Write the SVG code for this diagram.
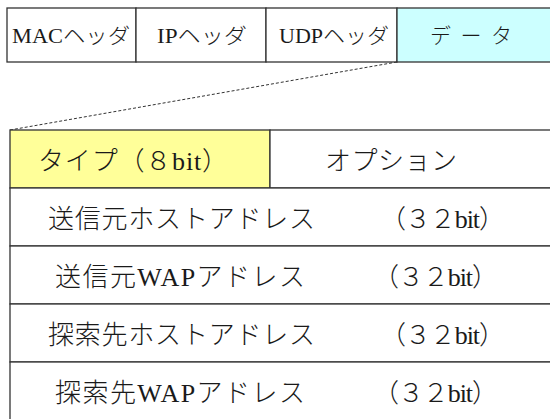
<svg xmlns="http://www.w3.org/2000/svg" width="550" height="419" viewBox="0 0 550 419">
<style>
.cell{stroke:#333;stroke-width:1.3}
.t{font-family:"Liberation Serif","Noto Sans CJK JP",serif;fill:#1a1a1a;font-weight:300}
.h{font-size:21px}
.r{font-size:26px}
</style>
<rect width="550" height="419" fill="#fff"/>
<g id="frame">
<g id="mac"><rect class="cell" x="7" y="8" width="129" height="54" fill="#fff"/><text class="t h" x="12" y="43" textLength="118" lengthAdjust="spacingAndGlyphs">MACヘッダ</text></g>
<g id="ip"><rect class="cell" x="136" y="8" width="130" height="54" fill="#fff"/><text class="t h" x="157" y="43" textLength="90" lengthAdjust="spacingAndGlyphs">IPヘッダ</text></g>
<g id="udp"><rect class="cell" x="266" y="8" width="131" height="54" fill="#fff"/><text class="t h" x="279" y="43" textLength="110" lengthAdjust="spacingAndGlyphs">UDPヘッダ</text></g>
<g id="data"><rect class="cell" x="397" y="8" width="160" height="54" fill="#ccffff"/><text class="t h" x="430" y="43" textLength="82" lengthAdjust="spacing">データ</text></g>
</g>
<g id="connectors">
<line x1="397" y1="62" x2="10" y2="130" stroke="#333" stroke-width="1" stroke-dasharray="3,2"/>
</g>
<g id="table">
<g id="type"><rect class="cell" x="10" y="130" width="260" height="58" fill="#ffff99"/><text class="t r" x="38" y="170" textLength="190" lengthAdjust="spacing">タイプ（８bit）</text></g>
<g id="option"><rect class="cell" x="270" y="130" width="290" height="58" fill="#fff"/><text class="t r" x="325" y="170" textLength="132" lengthAdjust="spacing">オプション</text></g>
<g id="src-host"><rect class="cell" x="10" y="188" width="550" height="58" fill="#fff"/><text class="t r" x="48" y="228" textLength="267" lengthAdjust="spacing">送信元ホストアドレス</text><text class="t r" x="380" y="228" textLength="125" lengthAdjust="spacing">（３２bit）</text></g>
<g id="src-wap"><rect class="cell" x="10" y="246" width="550" height="58" fill="#fff"/><text class="t r" x="55" y="286" textLength="250" lengthAdjust="spacing">送信元WAPアドレス</text><text class="t r" x="373" y="286" textLength="125" lengthAdjust="spacing">（３２bit）</text></g>
<g id="dst-host"><rect class="cell" x="10" y="304" width="550" height="58" fill="#fff"/><text class="t r" x="48" y="344" textLength="267" lengthAdjust="spacing">探索先ホストアドレス</text><text class="t r" x="380" y="344" textLength="125" lengthAdjust="spacing">（３２bit）</text></g>
<g id="dst-wap"><rect class="cell" x="10" y="362" width="550" height="70" fill="#fff"/><text class="t r" x="55" y="402" textLength="250" lengthAdjust="spacing">探索先WAPアドレス</text><text class="t r" x="373" y="402" textLength="125" lengthAdjust="spacing">（３２bit）</text></g>
</g>
</svg>
